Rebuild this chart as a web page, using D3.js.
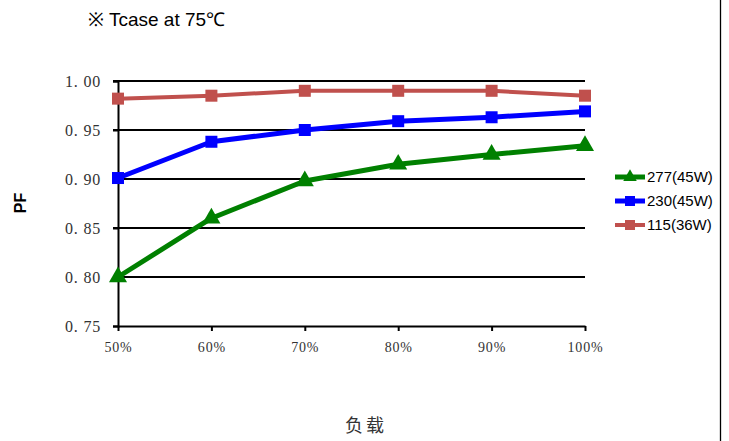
<!DOCTYPE html>
<html><head><meta charset="utf-8">
<script src="https://d3js.org/d3.v7.min.js"></script>
<style>
  body { margin: 0; background: #fff; }
</style>
</head>
<body>
<svg id="chart" width="729" height="441"></svg>
<script>
// data
let loads = ["50%", "60%", "70%", "80%", "90%", "100%"];
let pf277 = [0.800, 0.860, 0.898, 0.915, 0.925, 0.934];
let pf230 = [0.901, 0.938, 0.950, 0.959, 0.963, 0.969];
let pf115 = [0.982, 0.985, 0.990, 0.990, 0.990, 0.985];
let yTicks = [0.75, 0.80, 0.85, 0.90, 0.95, 1.00];

let series = [
  {name: "277(45W)", values: pf277, color: "#008000", shape: "tri", width: 5},
  {name: "230(45W)", values: pf230, color: "#0000ff", shape: "sq", width: 5},
  {name: "115(36W)", values: pf115, color: "#c0504d", shape: "sq", width: 4}
];

let svg = d3.select("#chart");

let x = d3.scalePoint().domain(loads).range([118, 585]);
let y = d3.scaleLinear().domain([0.75, 1.00]).range([326, 81]);

// right border line
svg.append("line").attr("x1", 720.5).attr("x2", 720.5).attr("y1", 0).attr("y2", 441)
  .attr("stroke", "#000").attr("stroke-width", 1.3);

// title
svg.append("text").attr("x", 88).attr("y", 26)
  .style("font-family", "Liberation Sans, Arial, sans-serif").style("font-size", "19px")
  .text("※ Tcase at 75℃");

// gridlines
svg.append("g").selectAll("line").data(yTicks.slice(1)).join("line")
  .attr("x1", 113).attr("x2", 585)
  .attr("y1", d => y(d)).attr("y2", d => y(d))
  .attr("stroke", "#000").attr("stroke-width", 2);

// y axis
let yAxis = svg.append("g").attr("transform", "translate(118,0)")
  .call(d3.axisLeft(y).tickValues(yTicks).tickSize(5).tickFormat(d => d3.format(".2f")(d).replace(".", ". ")));
yAxis.attr("font-size", null).attr("font-family", null);
yAxis.select(".domain").attr("stroke-width", 2);
yAxis.selectAll(".tick line").attr("stroke-width", 2);
yAxis.selectAll("text").attr("x", -17)
  .attr("font-family", "Liberation Serif, serif").attr("font-size", 16)
  .attr("letter-spacing", 0.8).attr("fill", "#333");

// x axis
let xAxis = svg.append("g").attr("transform", "translate(0,326)")
  .call(d3.axisBottom(x).tickSize(5).tickSizeOuter(0));
xAxis.attr("font-size", null).attr("font-family", null);
xAxis.select(".domain").attr("stroke-width", 2);
xAxis.selectAll(".tick line").attr("stroke-width", 2);
xAxis.selectAll("text").attr("y", 16)
  .attr("font-family", "Liberation Serif, serif").attr("font-size", 14)
  .attr("letter-spacing", 0.8).attr("fill", "#333");

// axis titles
svg.append("text").attr("transform", "translate(26,203) rotate(-90)")
  .attr("text-anchor", "middle")
  .style("font-family", "Liberation Sans, Arial, sans-serif").style("font-size", "16px").style("font-weight", "bold")
  .text("PF");
svg.append("text").attr("x", 366).attr("y", 432).attr("text-anchor", "middle")
  .style("font-family", "Noto Sans CJK SC, sans-serif").style("font-size", "18px").attr("fill", "#333")
  .style("letter-spacing", "3px")
  .text("负载");

let line = d3.line().x((d, i) => x(loads[i])).y(d => y(d));

function marker(g, shape, color, cx, cy, s) {
  if (shape === "sq") {
    g.append("rect").attr("x", cx - s / 2).attr("y", cy - s / 2).attr("width", s).attr("height", s).attr("fill", color);
  } else {
    g.append("path").attr("d", d3.symbol(d3.symbolTriangle, s * s * 0.55)()).attr("transform", `translate(${cx},${cy})`).attr("fill", color);
  }
}

// draw back to front: red, blue, green
series.slice().reverse().forEach(s => {
  let g = svg.append("g");
  g.append("path").datum(s.values).attr("d", line)
    .attr("fill", "none").attr("stroke", s.color).attr("stroke-width", s.width).attr("stroke-linejoin", "round");
  s.values.forEach((v, i) => marker(g, s.shape, s.color, x(loads[i]), y(v), s.shape === "sq" ? 12 : 16));
});

// legend
series.forEach((s, i) => {
  let ly = 177 + i * 24;
  let g = svg.append("g");
  g.append("line").attr("x1", 615).attr("x2", 645).attr("y1", ly).attr("y2", ly)
    .attr("stroke", s.color).attr("stroke-width", s.width);
  marker(g, s.shape, s.color, 630, ly, s.shape === "sq" ? 10 : 12);
  g.append("text").attr("x", 647).attr("y", ly + 5)
    .style("font-family", "Liberation Sans, Arial, sans-serif").style("font-size", "15px")
    .text(s.name);
});
</script>
</body></html>
